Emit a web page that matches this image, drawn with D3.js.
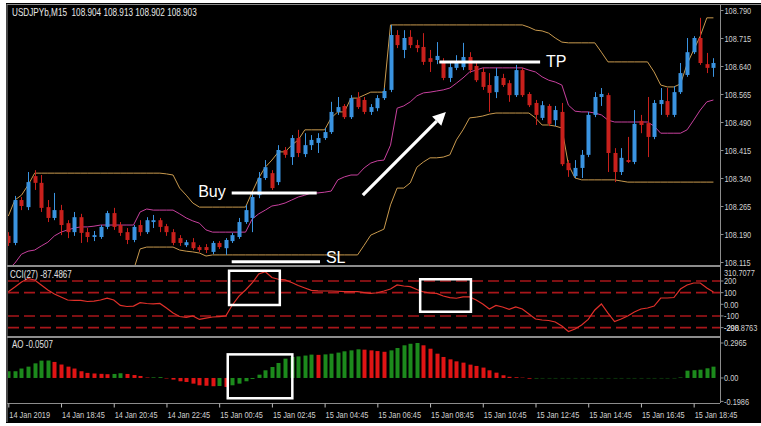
<!DOCTYPE html>
<html><head><meta charset="utf-8">
<script src="https://cdn.jsdelivr.net/npm/d3@7"></script>
<style>html,body{margin:0;padding:0;background:#fff;overflow:hidden}svg{display:block}</style>
</head><body><svg id="c" width="761" height="426"></svg>
<script>
// ---------- DATA ----------
const opens=[108.185,108.166,108.281,108.262,108.345,108.327,108.262,108.233,108.254,108.219,
108.195,108.235,108.195,108.182,108.182,108.209,108.246,108.214,108.195,108.174,
108.214,108.195,108.222,108.227,108.211,108.195,108.179,108.160,108.168,108.155,
108.155,108.142,108.166,108.152,108.171,108.182,108.222,108.233,108.294,108.340,
108.353,108.329,108.415,108.396,108.447,108.404,108.428,108.434,108.447,108.463,
108.517,108.533,108.503,108.554,108.549,108.517,108.527,108.554,108.576,108.723,
108.683,108.718,108.696,108.691,108.661,108.656,108.651,108.608,108.635,108.637,
108.664,108.640,108.624,108.589,108.570,108.608,108.594,108.562,108.629,108.565,
108.541,108.501,108.533,108.495,108.517,108.380,108.345,108.367,108.402,108.509,
108.557,108.562,108.407,108.356,108.388,108.383,108.493,108.487,108.450,108.538,
108.546,108.509,108.570,108.616,108.677,108.715,108.645,108.635];
const highs=[108.195,108.292,108.289,108.356,108.361,108.348,108.281,108.300,108.268,108.227,
108.249,108.244,108.206,108.198,108.214,108.252,108.260,108.222,108.206,108.214,
108.227,108.235,108.241,108.233,108.217,108.203,108.187,108.174,108.179,108.160,
108.163,108.171,108.171,108.179,108.193,108.233,108.268,108.302,108.356,108.388,
108.361,108.428,108.423,108.455,108.469,108.460,108.455,108.460,108.474,108.544,
108.557,108.538,108.562,108.570,108.557,108.538,108.562,108.581,108.750,108.736,
108.736,108.736,108.710,108.728,108.683,108.704,108.661,108.651,108.669,108.702,
108.677,108.651,108.635,108.621,108.635,108.619,108.602,108.643,108.635,108.570,
108.549,108.546,108.538,108.533,108.541,108.388,108.388,108.415,108.517,108.570,
108.581,108.568,108.420,108.420,108.450,108.522,108.509,108.557,108.549,108.581,
108.581,108.586,108.648,108.715,108.720,108.769,108.675,108.661];
const lows=[108.158,108.160,108.254,108.254,108.308,108.249,108.222,108.227,108.187,108.179,
108.185,108.166,108.168,108.171,108.177,108.203,108.201,108.185,108.163,108.168,
108.185,108.190,108.206,108.195,108.185,108.160,108.158,108.155,108.147,108.142,
108.139,108.136,108.150,108.134,108.166,108.177,108.217,108.195,108.286,108.335,
108.308,108.321,108.394,108.375,108.396,108.396,108.415,108.407,108.442,108.458,
108.509,108.498,108.498,108.525,108.511,108.509,108.519,108.549,108.570,108.688,
108.661,108.688,108.677,108.643,108.624,108.645,108.602,108.597,108.629,108.629,
108.621,108.597,108.576,108.517,108.554,108.584,108.544,108.557,108.557,108.530,
108.482,108.495,108.479,108.479,108.372,108.343,108.340,108.340,108.396,108.503,
108.533,108.356,108.329,108.348,108.380,108.377,108.460,108.396,108.444,108.509,
108.503,108.503,108.565,108.611,108.672,108.643,108.621,108.611];
const closes=[108.166,108.281,108.265,108.329,108.327,108.260,108.233,108.254,108.214,108.195,
108.235,108.193,108.182,108.187,108.209,108.246,108.209,108.193,108.174,108.209,
108.195,108.227,108.227,108.209,108.195,108.166,108.166,108.168,108.152,108.147,
108.147,108.166,108.155,108.174,108.187,108.222,108.254,108.289,108.340,108.369,
108.313,108.415,108.402,108.447,108.407,108.428,108.442,108.447,108.463,108.517,
108.530,108.503,108.554,108.530,108.517,108.530,108.554,108.573,108.723,108.696,
108.715,108.696,108.688,108.651,108.651,108.667,108.608,108.637,108.651,108.664,
108.629,108.602,108.584,108.568,108.613,108.589,108.562,108.629,108.562,108.535,
108.509,108.535,108.485,108.522,108.377,108.361,108.367,108.402,108.509,108.557,
108.565,108.407,108.356,108.394,108.383,108.485,108.482,108.450,108.541,108.549,
108.509,108.570,108.621,108.677,108.715,108.648,108.635,108.648];
const upperBand=[108.238,108.281,108.294,108.321,108.353,108.353,108.353,108.353,108.353,108.353,
108.353,108.353,108.353,108.353,108.353,108.353,108.353,108.353,108.353,108.353,
108.353,108.353,108.353,108.353,108.351,108.348,108.313,108.294,108.273,108.262,
108.262,108.262,108.262,108.262,108.262,108.262,108.262,108.302,108.340,108.369,
108.388,108.410,108.410,108.428,108.442,108.469,108.469,108.469,108.469,108.501,
108.517,108.517,108.554,108.554,108.562,108.570,108.570,108.570,108.750,108.750,
108.750,108.750,108.750,108.750,108.750,108.750,108.750,108.750,108.750,108.750,
108.750,108.750,108.750,108.750,108.750,108.750,108.750,108.750,108.750,108.744,
108.736,108.734,108.728,108.715,108.704,108.702,108.702,108.702,108.702,108.702,
108.677,108.651,108.651,108.651,108.651,108.651,108.651,108.651,108.624,108.589,
108.584,108.584,108.592,108.645,108.683,108.720,108.769,108.769];
const middleBand=[108.095,108.112,108.136,108.144,108.147,108.158,108.168,108.185,108.195,108.201,
108.206,108.209,108.209,108.211,108.214,108.214,108.214,108.214,108.214,108.214,
108.249,108.257,108.254,108.254,108.254,108.254,108.244,108.233,108.225,108.219,
108.201,108.195,108.195,108.195,108.195,108.195,108.195,108.230,108.244,108.254,
108.265,108.268,108.273,108.281,108.289,108.294,108.300,108.300,108.302,108.305,
108.335,108.343,108.348,108.348,108.367,108.380,108.386,108.388,108.428,108.527,
108.533,108.544,108.560,108.568,108.570,108.573,108.576,108.581,108.594,108.608,
108.624,108.629,108.635,108.635,108.635,108.635,108.635,108.635,108.635,108.629,
108.624,108.611,108.602,108.597,108.589,108.535,108.519,108.517,108.517,108.514,
108.509,108.495,108.490,108.490,108.490,108.490,108.490,108.490,108.479,108.460,
108.460,108.460,108.460,108.469,108.495,108.522,108.544,108.549];
const lowerBand=[null,null,null,null,null,null,null,null,null,null,
null,null,null,null,null,null,null,null,null,108.093,
108.150,108.155,108.155,108.155,108.155,108.155,108.147,108.144,108.142,108.139,
108.131,108.134,108.134,108.134,108.134,108.134,108.134,108.134,108.134,108.134,
108.134,108.134,108.134,108.134,108.134,108.134,108.134,108.134,108.134,108.134,
108.134,108.134,108.134,108.134,108.160,108.187,108.195,108.203,108.268,108.313,
108.313,108.327,108.369,108.383,108.394,108.394,108.396,108.402,108.442,108.469,
108.501,108.503,108.506,108.511,108.514,108.514,108.514,108.514,108.514,108.514,
108.501,108.482,108.482,108.479,108.474,108.375,108.340,108.335,108.335,108.335,
108.335,108.335,108.335,108.332,108.329,108.329,108.329,108.329,108.329,108.329,
108.329,108.329,108.329,108.329,108.329,108.329,108.329,108.329];
const cci=[108,148,191,221,209,166,123,88,63,37,
33,34,24,28,37,52,37,-10,-19,-15,
14,7,3,7,-32,-75,-105,-112,-100,-130,
-118,-109,-105,-100,-6,71,123,183,260,280,
230,215,209,187,161,140,120,116,114,114,
112,109,108,108,101,94,99,114,131,166,
157,151,127,106,97,93,71,58,52,63,
63,37,3,-40,-10,-23,-43,-23,-40,-83,
-126,-135,-139,-152,-186,-233,-212,-178,-130,-49,
3,-75,-148,-126,-100,-66,-40,-32,-15,54,
54,58,131,166,183,183,140,106];
const ao=[0.057,0.057,0.080,0.096,0.124,0.147,0.148,0.136,0.114,0.096,
0.080,0.057,0.043,0.038,0.035,0.032,0.034,0.040,0.034,0.025,
0.017,0.004,0.005,0.007,-0.004,-0.014,-0.028,-0.034,-0.048,-0.062,
-0.066,-0.070,-0.068,-0.076,-0.062,-0.048,-0.028,-0.008,0.028,0.065,
0.093,0.127,0.164,0.178,0.183,0.190,0.198,0.196,0.200,0.206,
0.215,0.226,0.234,0.243,0.240,0.234,0.228,0.222,0.234,0.254,
0.277,0.290,0.2965,0.277,0.248,0.206,0.178,0.158,0.141,0.130,
0.113,0.102,0.088,0.065,0.045,0.023,0.010,0.006,0.003,-0.006,
-0.004,-0.003,-0.003,-0.003,-0.003,-0.003,-0.003,-0.003,-0.003,-0.003,
-0.003,-0.003,-0.003,-0.003,-0.003,-0.003,-0.003,-0.003,-0.003,-0.003,
-0.003,-0.003,0.004,0.062,0.066,0.070,0.082,0.096];
const timeLabels=["14 Jan 2019","14 Jan 18:45","14 Jan 20:45","14 Jan 22:45","15 Jan 00:45","15 Jan 02:45","15 Jan 04:45","15 Jan 06:45","15 Jan 08:45","15 Jan 10:45","15 Jan 12:45","15 Jan 14:45","15 Jan 16:45","15 Jan 18:45"];
const timeTickBars=[0,8,16,24,32,40,48,56,64,72,80,88,96,104];
const priceTicks=[108.790,108.715,108.640,108.565,108.490,108.415,108.340,108.265,108.190,108.115];
const cciLevels=[200,100,-100,-200];
const cciTickLabels=[["310.7077",310.7077],["200",200],["100",100],["0.00",0],["-100",-100],["-200",-200],["-298.8763",-298.8763]];
const aoTickLabels=[["0.2965",0.2965],["0.00",0],["-0.1986",-0.1986]];
const titleText="USDJPYb,M15  108.904 108.913 108.902 108.903";
const cciTitle="CCI(27) -87.4867";
const aoTitle="AO -0.0507";
// annotations (bar index, value)
const buyLine={b0:33.9,b1:46.8,p:108.300,label:"Buy",lb:33.0,lp:108.305};
const slLine={b0:33.9,b1:47.3,p:108.116,label:"SL",lb:48.2,lp:108.126};
const tpLine={b0:65.4,b1:80.7,p:108.651,label:"TP",lb:81.6,lp:108.653};
const arrow={b0:53.8,p0:108.294,b1:66.4,p1:108.517};
const cciBoxes=[{b0:33.5,b1:41.2,v0:288,v1:-6},{b0:62.5,b1:70.2,v0:215,v1:-64}];
const aoBoxes=[{b0:33.3,b1:43.1,v0:0.200,v1:-0.172}];

// ---------- DRAW ----------
const svg=d3.select("#c");
const FONT="'Liberation Sans',Arial,sans-serif";
const FS=9.5, SX=0.78;
const L=7,R=720,T=4;
const mainB=265,cciT=268,cciB=336,aoT=338,aoB=403;
const x=d3.scaleLinear().domain([0,107]).range([8.3,8.3+107*6.59]);
const y=d3.scaleLinear().domain([108.115,108.790]).range([262,10]);
const yc=d3.scaleLinear().domain([-200,200]).range([327.6,281]);
const ya=d3.scaleLinear().domain([-0.1986,0.2965]).range([401.4,343]);

svg.append("rect").attr("width",761).attr("height",426).attr("fill","#fff");
svg.append("rect").attr("x",6).attr("y",3).attr("width",755).attr("height",420).attr("fill","#000");

const defs=svg.append("defs");
function clip(id,y0,y1){defs.append("clipPath").attr("id",id).append("rect").attr("x",L+1).attr("y",y0).attr("width",R-L-1).attr("height",y1-y0);}
clip("cm",T+1,mainB);clip("cc",cciT,cciB);clip("ca",aoT,aoB);

function label(g,px,py,s,fill,fs,sx){
  return g.append("text").attr("transform",`translate(${px},${py}) scale(${sx||SX},1)`).attr("dy","0.35em")
   .attr("fill",fill||"#d0d0d0").attr("font-family",FONT).attr("font-size",fs||FS).attr("xml:space","preserve").text(s);
}

// main panel
const gm=svg.append("g").attr("clip-path","url(#cm)");
const bandLine=d3.line().defined(d=>d!=null).x((d,i)=>x(i)).y(d=>y(d));
gm.append("path").datum(upperBand).attr("d",bandLine).attr("fill","none").attr("stroke","#c99a4e").attr("stroke-width",1);
gm.append("path").datum(lowerBand).attr("d",bandLine).attr("fill","none").attr("stroke","#c99a4e").attr("stroke-width",1);
gm.append("path").datum(middleBand).attr("d",bandLine).attr("fill","none").attr("stroke","#c8409e").attr("stroke-width",1);

const candles=d3.range(opens.length).map(i=>({i,o:opens[i],h:highs[i],l:lows[i],c:closes[i]}));
const cg=gm.selectAll("g.cd").data(candles).join("g");
const col=d=>d.c>=d.o?"#3a93e0":"#c8201c";
cg.append("line").attr("x1",d=>Math.round(x(d.i))+0.5).attr("x2",d=>Math.round(x(d.i))+0.5)
 .attr("y1",d=>y(d.h)).attr("y2",d=>y(d.l)).attr("stroke",col).attr("stroke-width",1);
cg.append("rect").attr("x",d=>Math.round(x(d.i))-1.5).attr("width",4)
 .attr("y",d=>y(Math.max(d.o,d.c))).attr("height",d=>Math.max(1.2,Math.abs(y(d.o)-y(d.c)))).attr("fill",col);

// annotations main
const W="#ffffff";
[buyLine,slLine,tpLine].forEach(a=>{
  gm.append("line").attr("x1",x(a.b0)).attr("x2",x(a.b1)).attr("y1",y(a.p)).attr("y2",y(a.p)).attr("stroke",W).attr("stroke-width",3);
});
svg.append("text").attr("x",x(buyLine.lb)).attr("y",y(buyLine.lp)).attr("text-anchor","end").attr("dy","0.35em")
 .attr("fill",W).attr("font-family",FONT).attr("font-size",16).text(buyLine.label);
[slLine,tpLine].forEach(a=>{
 svg.append("text").attr("x",x(a.lb)).attr("y",y(a.lp)).attr("dy","0.35em").attr("fill",W)
  .attr("font-family",FONT).attr("font-size",16).text(a.label);
});
{
 const x0=x(arrow.b0),y0=y(arrow.p0),x1=x(arrow.b1),y1=y(arrow.p1);
 const ang=Math.atan2(y1-y0,x1-x0),hl=13,hw=6.5;
 const bx=x1-hl*Math.cos(ang),by=y1-hl*Math.sin(ang);
 gm.append("line").attr("x1",x0).attr("y1",y0).attr("x2",bx).attr("y2",by).attr("stroke",W).attr("stroke-width",3.2);
 const pts=[[x1,y1],[bx+hw*Math.sin(ang),by-hw*Math.cos(ang)],[bx-hw*Math.sin(ang),by+hw*Math.cos(ang)]];
 gm.append("polygon").attr("points",pts.map(p=>p.join(",")).join(" ")).attr("fill",W);
}

// CCI panel
const gc=svg.append("g").attr("clip-path","url(#cc)");
gc.selectAll("line.lv").data(cciLevels).join("line").attr("x1",L+1).attr("x2",R).attr("y1",d=>yc(d)).attr("y2",d=>yc(d))
 .attr("stroke","#a8161a").attr("stroke-width",1.6).attr("stroke-dasharray","11,5");
gc.append("path").datum(cci).attr("d",d3.line().x((d,i)=>x(i)).y(d=>yc(d))).attr("fill","none").attr("stroke","#e0302a").attr("stroke-width",1.2);
cciBoxes.forEach(b=>{
 svg.append("rect").attr("x",x(b.b0)).attr("y",yc(b.v0)).attr("width",x(b.b1)-x(b.b0)).attr("height",yc(b.v1)-yc(b.v0))
  .attr("fill","none").attr("stroke",W).attr("stroke-width",2.5);
});

// AO panel
const ga=svg.append("g").attr("clip-path","url(#ca)");
ga.selectAll("rect.ao").data(ao).join("rect")
 .attr("x",(d,i)=>Math.round(x(i))-1.5).attr("width",4)
 .attr("y",d=>Math.min(ya(d),ya(0))).attr("height",d=>Math.abs(ya(d)-ya(0)))
 .attr("fill",(d,i)=>i===0||d>=ao[i-1]?"#1c8a1c":"#e01414");
aoBoxes.forEach(b=>{
 svg.append("rect").attr("x",x(b.b0)).attr("y",ya(b.v0)).attr("width",x(b.b1)-x(b.b0)).attr("height",ya(b.v1)-ya(b.v0))
  .attr("fill","none").attr("stroke",W).attr("stroke-width",2.5);
});

// frames
const G="#8c8c8c";
const fr=svg.append("g").attr("stroke",G).attr("fill","none");
fr.append("line").attr("x1",L).attr("x2",L).attr("y1",T).attr("y2",422);
fr.append("line").attr("x1",L).attr("x2",761).attr("y1",T+0.5).attr("y2",T+0.5);
fr.append("line").attr("x1",L).attr("x2",R).attr("y1",266).attr("y2",266).attr("stroke-width",2);
fr.append("line").attr("x1",L).attr("x2",R).attr("y1",337).attr("y2",337).attr("stroke-width",2);
fr.append("line").attr("x1",R+0.5).attr("x2",R+0.5).attr("y1",T).attr("y2",aoB);
fr.append("line").attr("x1",L).attr("x2",R).attr("y1",aoB+0.5).attr("y2",aoB+0.5);

// price axis (ticks through d3 axis, labels condensed)
const pAx=svg.append("g").attr("transform",`translate(${R+0.5},0)`)
 .call(d3.axisRight(y).tickValues(priceTicks).tickFormat(d3.format(".3f")).tickSize(3));
pAx.select(".domain").remove();
pAx.selectAll("line").attr("stroke",G);
pAx.selectAll(".tick text").attr("x",null).attr("dy",null).attr("font-family",FONT).attr("font-size",FS)
 .attr("fill","#d0d0d0").attr("transform",`translate(4,0) scale(${SX},1)`).attr("dominant-baseline","central");

// CCI labels: extreme values pinned inside the panel, as in the terminal
const ccAx=svg.append("g").attr("transform",`translate(${R+0.5},0)`);
cciTickLabels.forEach(d=>label(ccAx,3.5,Math.min(Math.max(yc(d[1]),cciT+5),yc(-200)),d[0]));
ccAx.selectAll("line").data(cciTickLabels.slice(1,6)).join("line").attr("x1",0).attr("x2",3).attr("y1",d=>yc(d[1])).attr("y2",d=>yc(d[1])).attr("stroke",G);
const aoAx=svg.append("g").attr("transform",`translate(${R+0.5},0)`);
aoTickLabels.forEach(d=>label(aoAx,3.5,ya(d[1]),d[0]));
aoAx.selectAll("line").data(aoTickLabels).join("line").attr("x1",0).attr("x2",3).attr("y1",d=>ya(d[1])).attr("y2",d=>ya(d[1])).attr("stroke",G);

// time axis
const tAx=svg.append("g").attr("transform",`translate(0,${aoB+0.5})`)
 .call(d3.axisBottom(x).tickValues(timeTickBars).tickFormat((d,i)=>timeLabels[i]).tickSize(4));
tAx.select(".domain").remove();
tAx.selectAll("line").attr("stroke","#bbb");
tAx.selectAll(".tick text").attr("y",null).attr("dy",null).attr("text-anchor","start").attr("font-family",FONT).attr("font-size",FS)
 .attr("fill","#d0d0d0").attr("dominant-baseline","central").attr("transform",`translate(0.5,11) scale(${SX},1)`);

// titles
label(svg,12,12.5,titleText,"#e8e8e8",10,0.82);
label(svg,10,274,cciTitle,"#e0e0e0",10,0.8);
label(svg,12,344,aoTitle,"#e0e0e0",10,0.8);
</script></body></html>
